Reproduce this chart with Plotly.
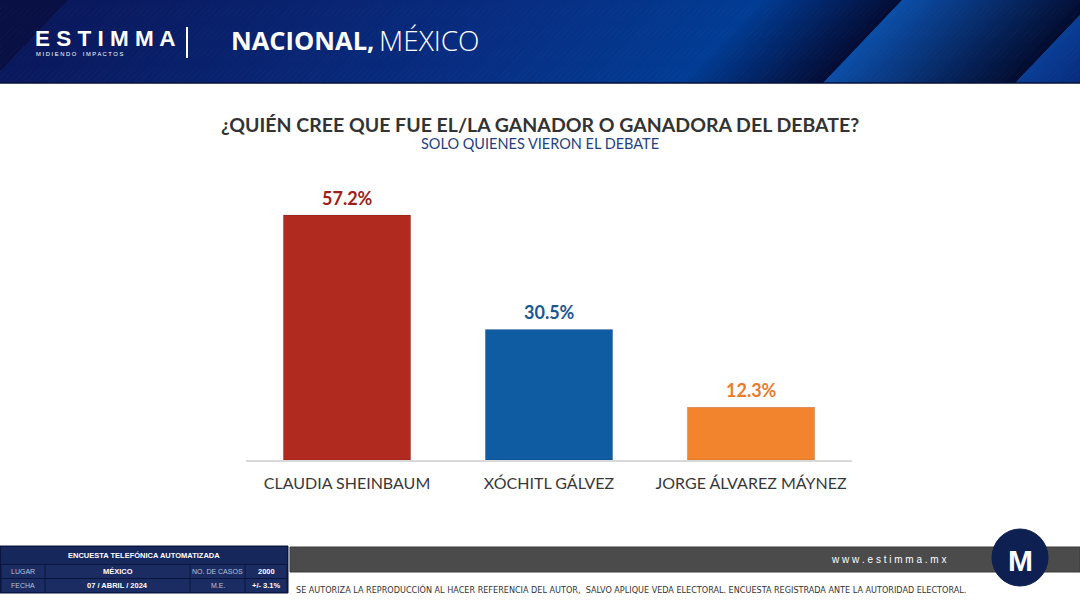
import plotly.graph_objects as go

# ---------------- data ----------------
categories = ["CLAUDIA SHEINBAUM", "XÓCHITL GÁLVEZ", "JORGE ÁLVAREZ MÁYNEZ"]
values = [57.2, 30.5, 12.3]
value_labels = ["57.2%", "30.5%", "12.3%"]
bar_colors = ["#b02a20", "#0f5ca3", "#f2842e"]
label_colors = ["#9e2119", "#1b5792", "#ec7b2a"]

title = "¿QUIÉN CREE QUE FUE EL/LA GANADOR O GANADORA DEL DEBATE?"
subtitle = "SOLO QUIENES VIERON EL DEBATE"
disclaimer = ("SE AUTORIZA LA REPRODUCCIÓN AL HACER REFERENCIA DEL AUTOR,  SALVO APLIQUE VEDA "
              "ELECTORAL. ENCUESTA REGISTRADA ANTE LA AUTORIDAD ELECTORAL.")
table_header = "ENCUESTA TELEFÓNICA AUTOMATIZADA"
table_rows = [["LUGAR", "MÉXICO", "NO. DE CASOS", "2000"],
              ["FECHA", "07 / ABRIL / 2024", "M.E.", "+/- 3.1%"]]

W, H = 1080, 608


def px(x):
    return x / W


def py(y):
    return 1 - y / H


fig = go.Figure(go.Bar(
    x=categories, y=values, width=0.63,
    marker=dict(color=bar_colors, line=dict(color="rgba(0,0,0,0.12)", width=1)),
    hoverinfo="skip",
))

shapes = []
annotations = []

# ---------------- header band (diagonal gradient strips) ----------------
def lerp(c1, c2, t):
    return tuple(int(round(a + (b - a) * t)) for a, b in zip(c1, c2))


def header_color(u):
    if u < 70:
        return (8, 16, 68)
    if u < 500:
        return lerp((10, 24, 92), (8, 44, 128), (u - 70) / 430)
    if u < 760:
        return lerp((8, 44, 128), (2, 60, 148), (u - 500) / 260)
    if u < 902:
        return lerp((2, 60, 148), (3, 12, 52), (u - 760) / 142)
    if u < 1092:
        return lerp((12, 78, 168), (3, 12, 48), (u - 902) / 190)
    return lerp((10, 62, 150), (6, 40, 120), min(1, (u - 1092) / 80))


slope = 79
step = 6
u = -100
while u < 1200:
    c = header_color(u + step / 2)
    col = "rgb(%d,%d,%d)" % c
    path = "M %f %f L %f %f L %f %f L %f %f Z" % (
        px(u), py(0), px(u + step + 0.8), py(0),
        px(u + step + 0.8 - slope), py(83), px(u - slope), py(83))
    shapes.append(dict(type="path", xref="paper", yref="paper", path=path,
                       fillcolor=col, line=dict(width=0), layer="above"))
    u += step

shapes.append(dict(type="line", xref="paper", yref="paper", x0=0, x1=1, y0=py(83), y1=py(83),
                   line=dict(color="#06103a", width=1.5), layer="above"))
# logo divider
shapes.append(dict(type="line", xref="paper", yref="paper", x0=px(187), x1=px(187),
                   y0=py(27), y1=py(58), line=dict(color="white", width=2), layer="above"))

annotations.append(dict(xref="paper", yref="paper", x=px(33), y=py(38), xanchor="left",
                        yanchor="middle", showarrow=False, text="<b>E S T I M M A</b>",
                        font=dict(family="Arial", size=22.5, color="white")))
annotations.append(dict(xref="paper", yref="paper", x=px(34), y=py(54), xanchor="left",
                        yanchor="middle", showarrow=False,
                        text="M I D I E N D O    I M P A C T O S",
                        font=dict(family="Arial", size=5.8, color="white")))
annotations.append(dict(xref="paper", yref="paper", x=px(229), y=py(40), xanchor="left",
                        yanchor="middle", showarrow=False,
                        text="<b>NACIONAL,</b>",
                        font=dict(family="Open Sans", size=25.5, color="white")))
annotations.append(dict(xref="paper", yref="paper", x=px(377), y=py(40), xanchor="left",
                        yanchor="middle", showarrow=False,
                        text="MÉXICO",
                        font=dict(family="Open Sans", size=28, color="white", weight=300)))

# ---------------- titles ----------------
annotations.append(dict(xref="paper", yref="paper", x=0.5, y=py(124), xanchor="center",
                        yanchor="middle", showarrow=False, text="<b>%s</b>" % title,
                        font=dict(family="Lato", size=19.5, color="#333333")))
annotations.append(dict(xref="paper", yref="paper", x=0.5, y=py(144), xanchor="center",
                        yanchor="middle", showarrow=False, text=subtitle,
                        font=dict(family="Lato", size=14.5, color="#1f3f7f")))

# ---------------- value labels ----------------
for cat, v, lab, c in zip(categories, values, value_labels, label_colors):
    annotations.append(dict(xref="x", yref="y", x=cat, y=v, xanchor="center",
                            yanchor="bottom", yshift=4, showarrow=False,
                            text="<b>%s</b>" % lab,
                            font=dict(family="Lato", size=18, color=c)))

# ---------------- footer ----------------
shapes.append(dict(type="rect", xref="paper", yref="paper", x0=px(290), x1=px(1080),
                   y0=py(572), y1=py(547), fillcolor="#4b4b4b",
                   line=dict(color="#3a3a3a", width=1), layer="above"))
annotations.append(dict(xref="paper", yref="paper", x=px(948), y=py(559), xanchor="right",
                        yanchor="middle", showarrow=False, text="w w w . e s t i m m a . m x",
                        font=dict(family="Arial", size=10, color="white")))
shapes.append(dict(type="circle", xref="paper", yref="paper", x0=px(992), x1=px(1048),
                   y0=py(586), y1=py(529), fillcolor="#0e1f52",
                   line=dict(color="#0e1f52", width=1), layer="above"))
annotations.append(dict(xref="paper", yref="paper", x=px(1020), y=py(560), xanchor="center",
                        yanchor="middle", showarrow=False, text="<b>M</b>",
                        font=dict(family="Arial", size=30, color="white")))
annotations.append(dict(xref="paper", yref="paper", x=px(294), y=py(589), xanchor="left",
                        yanchor="middle", showarrow=False, text=disclaimer,
                        font=dict(family="Liberation Sans Narrow, DejaVu Sans Condensed, Arial Narrow, Liberation Sans",
                                  size=9, color="#333333")))

# ---------------- table ----------------
shapes.append(dict(type="rect", xref="paper", yref="paper", x0=px(0), x1=px(288),
                   y0=py(593), y1=py(546), fillcolor="#0b1640",
                   line=dict(color="#0b1640", width=1), layer="above"))
shapes.append(dict(type="rect", xref="paper", yref="paper", x0=px(1), x1=px(287),
                   y0=py(564), y1=py(547), fillcolor="#16275c",
                   line=dict(width=0), layer="above"))
annotations.append(dict(xref="paper", yref="paper", x=px(144), y=py(555.5), xanchor="center",
                        yanchor="middle", showarrow=False, text="<b>%s</b>" % table_header,
                        font=dict(family="Liberation Sans Narrow, Arial Narrow, Arial",
                                  size=7.5, color="white")))
col_edges = [1, 45, 190, 245, 287]
row_edges = [(565, 578), (579, 592)]
for (y0, y1), row in zip(row_edges, table_rows):
    for i, txt in enumerate(row):
        x0, x1 = col_edges[i], col_edges[i + 1]
        shapes.append(dict(type="rect", xref="paper", yref="paper", x0=px(x0 + 0.5),
                           x1=px(x1 - 0.5), y0=py(y1), y1=py(y0), fillcolor="#1a2c62",
                           line=dict(width=0), layer="above"))
        bold = i % 2 == 1
        annotations.append(dict(xref="paper", yref="paper", x=px((x0 + x1) / 2),
                                y=py((y0 + y1) / 2), xanchor="center", yanchor="middle",
                                showarrow=False,
                                text=("<b>%s</b>" % txt) if bold else txt,
                                font=dict(family="Liberation Sans Narrow, Arial Narrow, Arial",
                                          size=7.5 if bold else 7,
                                          color="white" if bold else "#b9c2dc")))

fig.update_layout(
    width=W, height=H,
    margin=dict(l=0, r=0, t=0, b=0),
    paper_bgcolor="white", plot_bgcolor="white",
    showlegend=False,
    shapes=shapes, annotations=annotations,
    xaxis=dict(domain=[px(246), px(852)], showline=True, linecolor="#d9d9d9", linewidth=1.5,
               ticks="", showgrid=False, zeroline=False, ticklabelstandoff=8,
               tickfont=dict(family="Lato", size=16, color="#383838"), fixedrange=True),
    yaxis=dict(domain=[py(460), py(180)], range=[0, 65.4], visible=False, fixedrange=True),
)

fig.write_html(
    "out.html",
    config={"displayModeBar": False},
    post_script="document.body.style.margin='0';document.body.style.overflow='hidden';",
)
